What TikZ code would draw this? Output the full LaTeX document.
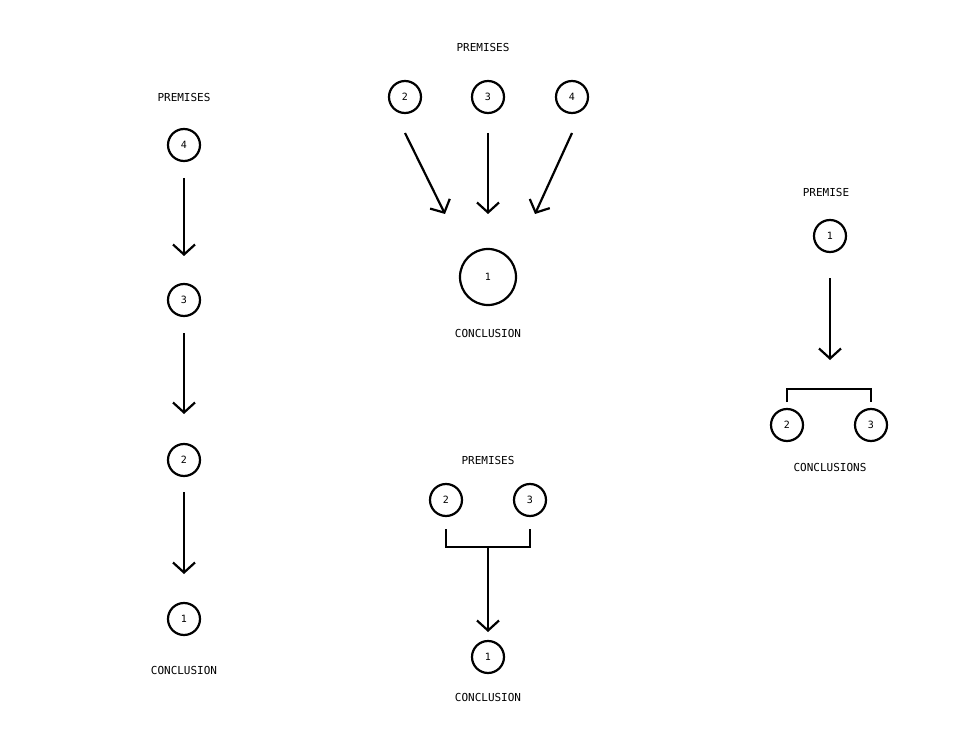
\documentclass[tikz,border=0pt]{standalone}
\usepackage{fontspec}
\setmainfont{DejaVu Sans Mono}
\usetikzlibrary{arrows.meta}
\begin{document}
\begin{tikzpicture}[x=1pt,y=-1pt,
  c/.style={circle,draw,line width=2.2pt,minimum size=32pt,inner sep=0pt,font=\fontsize{10}{10}\selectfont},
  big/.style={c,minimum size=56pt},
  lab/.style={font=\fontsize{11}{11}\selectfont},
  ar/.style={line width=2.2pt,-{Straight Barb[length=10pt,width=22pt,line width=2.2pt]}},
  ln/.style={line width=2.2pt}]
\useasboundingbox (0,0) rectangle (964,738);
% left chain
\node[lab] (lp) at (184,97) {PREMISES};
\node[c] (l4) at (184,145) {4};
\node[c] (l3) at (184,300) {3};
\node[c] (l2) at (184,460) {2};
\node[c] (l1) at (184,619) {1};
\node[lab] (lc) at (184,670) {CONCLUSION};
\coordinate (a1) at (184,178); \coordinate (b1) at (184,256);
\coordinate (a2) at (184,333); \coordinate (b2) at (184,414);
\coordinate (a3) at (184,492); \coordinate (b3) at (184,574);
\draw[ar] (a1) -- (b1); \draw[ar] (a2) -- (b2); \draw[ar] (a3) -- (b3);
% top middle
\node[lab] (tp) at (483,47) {PREMISES};
\node[c] (t2) at (405,97) {2};
\node[c] (t3) at (488,97) {3};
\node[c] (t4) at (572,97) {4};
\node[big] (t1) at (488,277) {1};
\node[lab] (tc) at (488,333) {CONCLUSION};
\coordinate (ta) at (405,133); \coordinate (tb) at (445,214);
\coordinate (tc1) at (488,133); \coordinate (td) at (488,214);
\coordinate (te) at (572,133); \coordinate (tf) at (535,214);
\draw[ar] (ta) -- (tb); \draw[ar] (tc1) -- (td); \draw[ar] (te) -- (tf);
% right
\node[lab] (rp) at (826,192) {PREMISE};
\node[c] (r1) at (830,236) {1};
\node[c] (r2) at (787,425) {2};
\node[c] (r3) at (871,425) {3};
\node[lab] (rc) at (830,467) {CONCLUSIONS};
\coordinate (ra) at (830,278); \coordinate (rb) at (830,360);
\draw[ar] (ra) -- (rb);
\coordinate (rk1) at (787,402); \coordinate (rk2) at (871,402);
\draw[ln] (rk1) -- (787,389) -- (871,389) -- (rk2);
% bottom middle
\node[lab] (bp) at (488,460) {PREMISES};
\node[c] (b2n) at (446,500) {2};
\node[c] (b3n) at (530,500) {3};
\node[c] (b1n) at (488,657) {1};
\node[lab] (bc) at (488,697) {CONCLUSION};
\coordinate (bk1) at (446,529); \coordinate (bk2) at (530,529);
\coordinate (bm) at (488,547); \coordinate (be) at (488,632);
\draw[ln] (bk1) -- (446,547) -- (530,547) -- (bk2);
\draw[ar] (bm) -- (be);
\end{tikzpicture}
\end{document}
